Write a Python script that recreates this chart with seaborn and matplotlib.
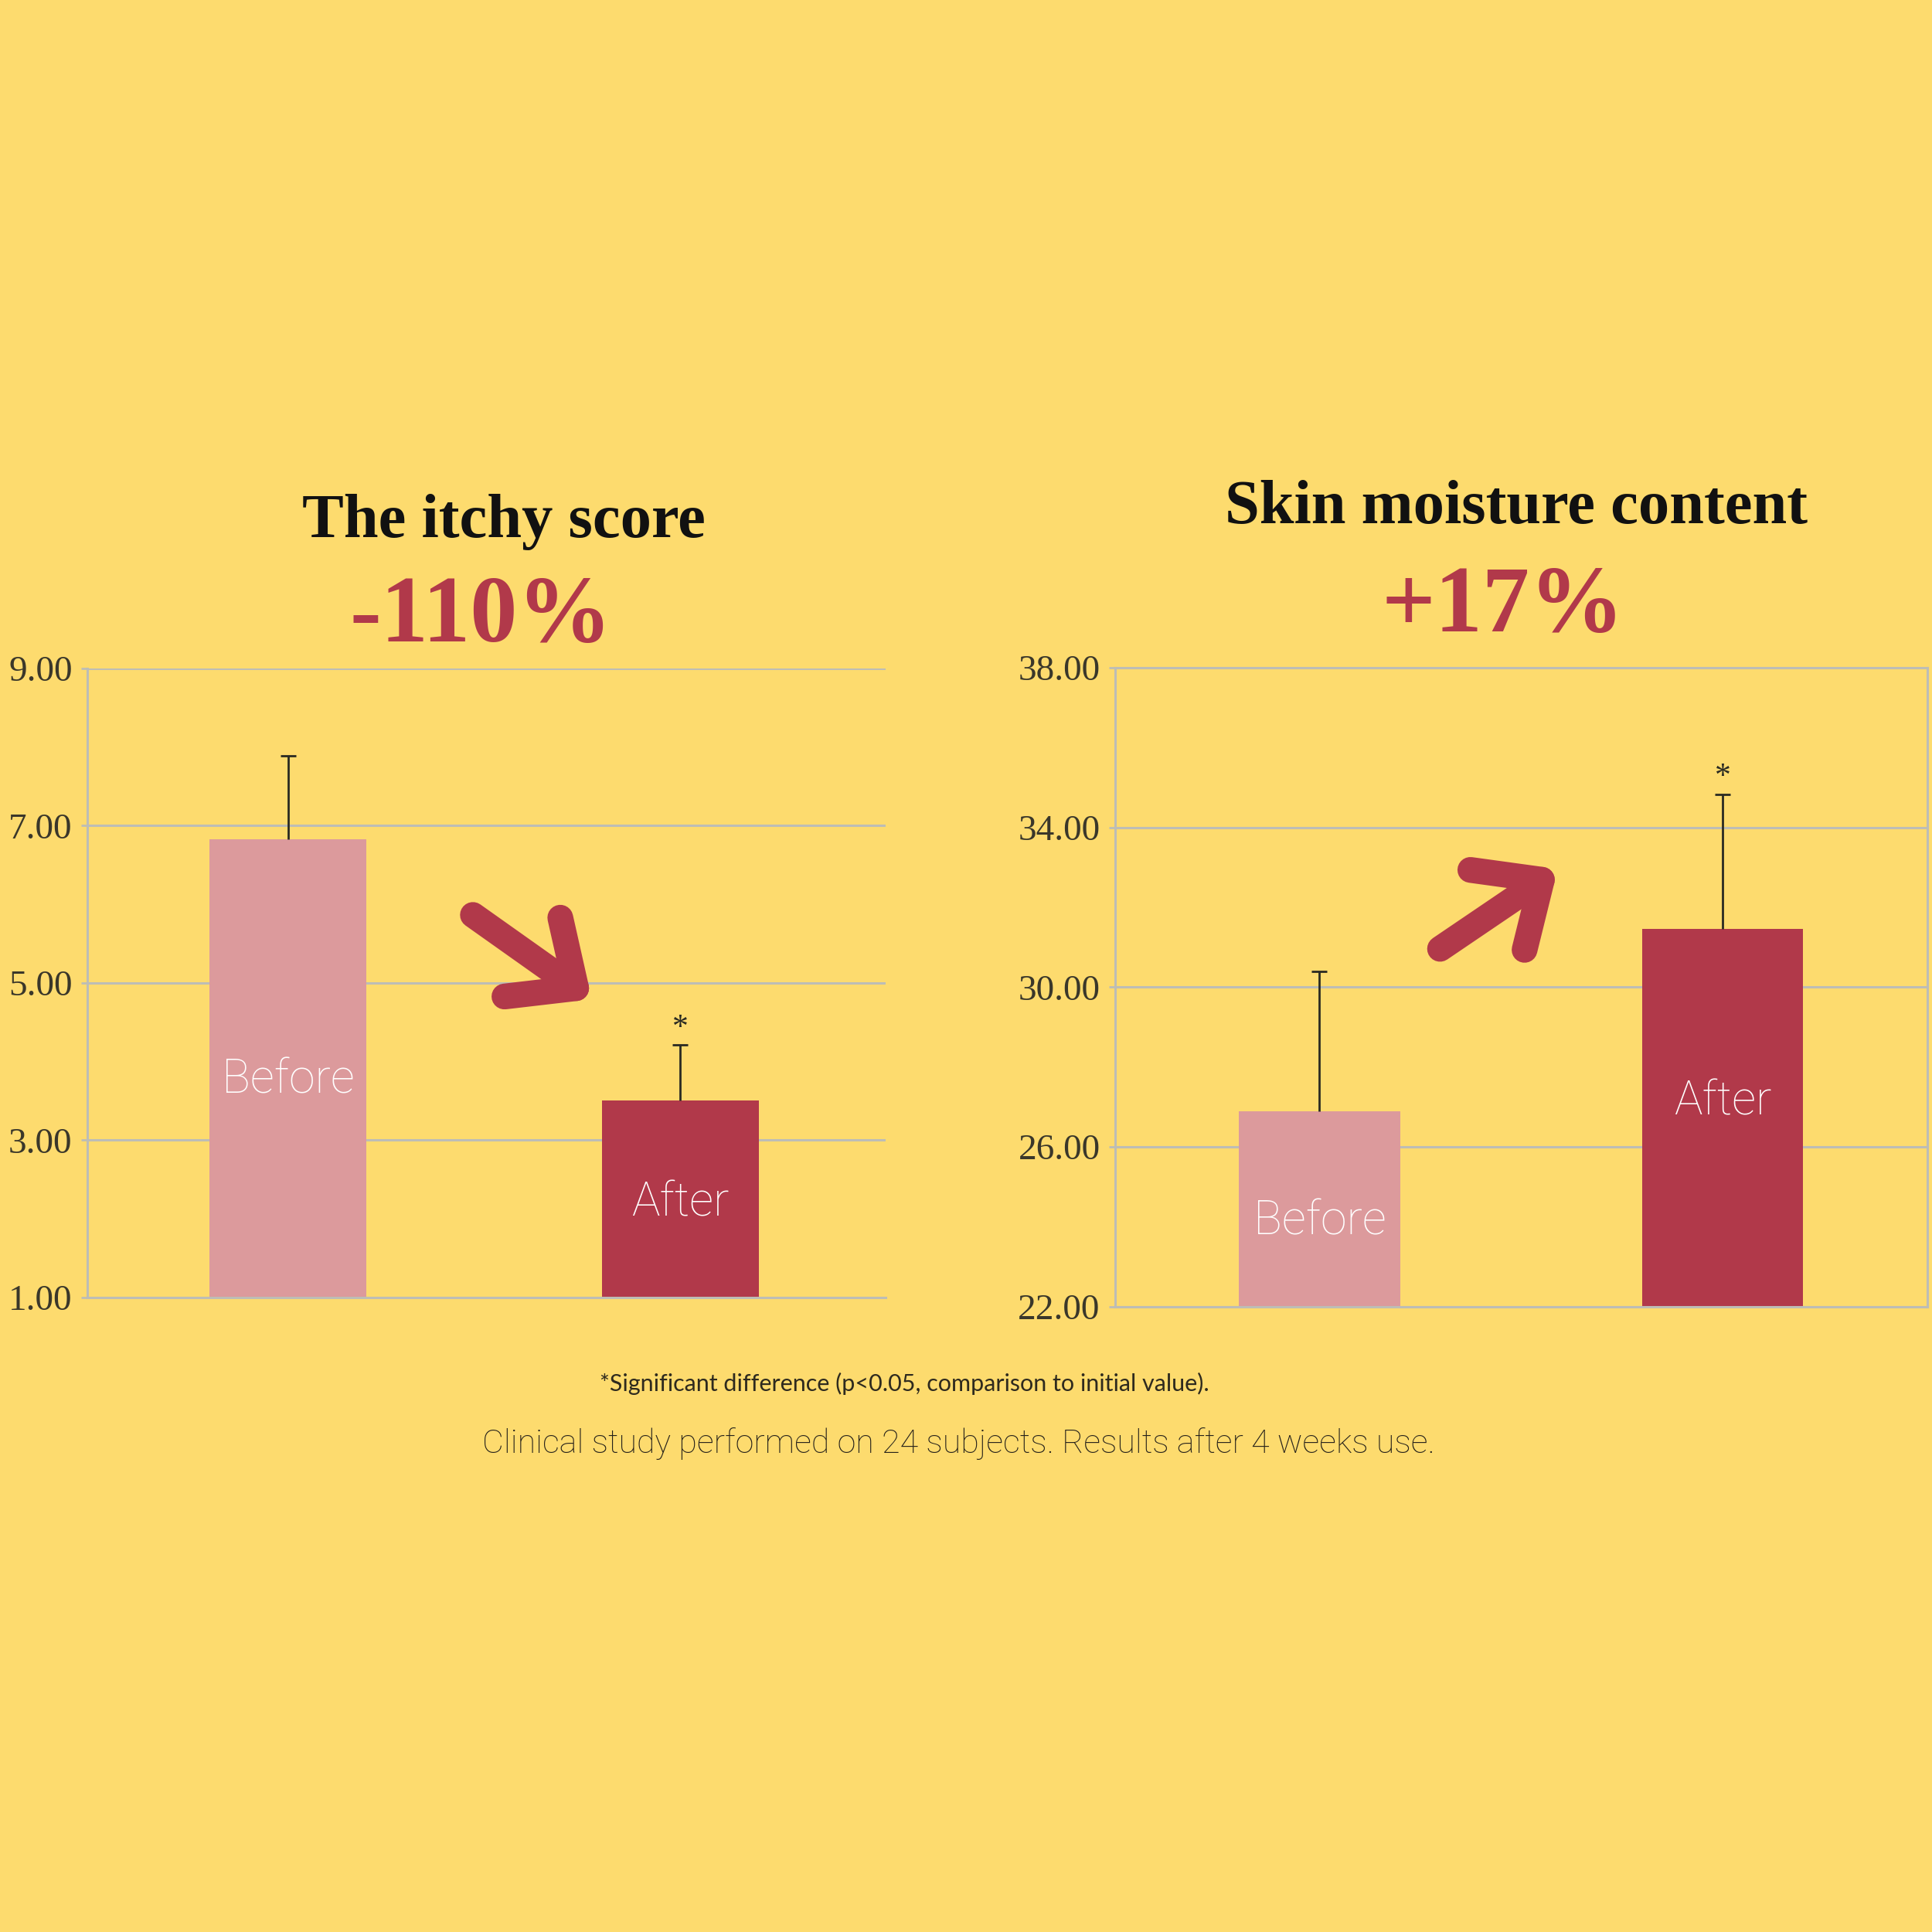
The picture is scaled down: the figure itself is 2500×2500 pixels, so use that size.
import matplotlib
matplotlib.use("Agg")
import matplotlib.pyplot as plt
import seaborn as sns

# data
categories = ["Before", "After"]

itchy_values = [6.83, 3.51]
itchy_errors = [1.06, 0.70]
itchy_ticks = [1, 3, 5, 7, 9]

moisture_values = [26.89, 31.46]
moisture_errors = [3.50, 3.37]
moisture_ticks = [22, 26, 30, 34, 38]

titles = ["The itchy score", "Skin moisture content"]
changes = ["-110%", "+17%"]
footnote = "*Significant difference (p<0.05, comparison to initial value)."
study_note = "Clinical study performed on 24 subjects. Results after 4 weeks use."

# colours
bg = "#FDDB6E"
bar_colors = ["#DC9A9C", "#B1394A"]
accent = "#B1394A"
grid_col = "#BDBDB6"

sns.set_theme(style="white")
plt.rcParams["font.family"] = ["Liberation Serif", "DejaVu Serif"]
light_sans = ["Roboto", "Lato", "DejaVu Sans"]

fig = plt.figure(figsize=(25, 25), dpi=100, facecolor=bg)

ax1 = fig.add_axes([0.0452, 0.3284, 0.4132, 0.3257])
ax2 = fig.add_axes([0.5772, 0.3237, 0.4204, 0.3307])


def draw_panel(ax, values, errors, ticks, xlim, label_frac, box):
    ax.set_facecolor(bg)
    sns.barplot(x=categories, y=values, hue=categories, palette=bar_colors,
                width=0.4, legend=False, ax=ax, saturation=1, linewidth=0,
                zorder=2)
    ax.set_ylim(ticks[0], ticks[-1])
    ax.set_xlim(*xlim)
    ax.set_yticks(ticks)
    ax.set_yticklabels([f"{t:.2f}" for t in ticks], fontsize=34, color="#3a372a")
    ax.set_xticks([])
    ax.set_xlabel("")
    ax.set_ylabel("")
    ax.yaxis.grid(True, color=grid_col, linewidth=2.2, zorder=0)
    ax.set_axisbelow(True)
    ax.tick_params(axis="y", length=6, width=2, color=grid_col, pad=8, left=True)
    for side in ["left", "bottom", "top", "right"]:
        ax.spines[side].set_color(grid_col)
        ax.spines[side].set_linewidth(2.2)
    if not box:
        ax.spines["top"].set_visible(False)
        ax.spines["right"].set_visible(False)

    # error bars, only the upper half
    xs = list(range(len(values)))
    _, caps, _ = ax.errorbar(xs, values, yerr=[[0] * len(errors), errors],
                             fmt="none", ecolor="#2a2a22", elinewidth=2,
                             capsize=7, capthick=2, zorder=3)
    caps[0].set_visible(False)

    # significance star above the "After" bar
    ax.annotate("*", xy=(1, values[1] + errors[1]), xytext=(0, 2),
                textcoords="offset points", ha="center", va="bottom",
                fontsize=30, color="#2a2a22")

    # labels inside the bars
    lo = ticks[0]
    for i, (cat, v) in enumerate(zip(categories, values)):
        ax.text(i, lo + label_frac[i] * (v - lo), cat, ha="center", va="center",
                fontsize=44, color="white", family=light_sans,
                fontweight="light", zorder=4)


draw_panel(ax1, itchy_values, itchy_errors, itchy_ticks, (-0.511, 1.523),
           [0.475, 0.478], box=False)
draw_panel(ax2, moisture_values, moisture_errors, moisture_ticks, (-0.507, 1.508),
           [0.436, 0.542], box=True)

# arrows
arrow_kw = dict(arrowstyle="->, head_length=0.5, head_width=0.45", color=accent,
                lw=24, shrinkA=0, shrinkB=0, mutation_scale=100,
                capstyle="round", joinstyle="round")
ax1.annotate("", xy=(0.632, 0.474), xytext=(0.483, 0.608),
             xycoords="axes fraction", textcoords="axes fraction",
             arrowprops=arrow_kw)
ax2.annotate("", xy=(0.545, 0.685), xytext=(0.400, 0.560),
             xycoords="axes fraction", textcoords="axes fraction",
             arrowprops=arrow_kw)

# headings
fig.text(652 / 2500, 1 - 695 / 2500, titles[0], ha="center", va="baseline",
         fontsize=58, fontweight="bold", color="#111111")
fig.text(1962 / 2500, 1 - 677 / 2500, titles[1], ha="center", va="baseline",
         fontsize=58, fontweight="bold", color="#111111")
fig.text(622 / 2500, 1 - 830 / 2500, changes[0], ha="center", va="baseline",
         fontsize=88, fontweight="bold", color=accent)
fig.text(1945 / 2500, 1 - 817 / 2500, changes[1], ha="center", va="baseline",
         fontsize=88, fontweight="bold", color=accent)

# notes
fig.text(1170 / 2500, 1 - 1800 / 2500, footnote, ha="center", va="baseline",
         fontsize=22, color="#2e2a1e", family=["Lato", "DejaVu Sans"])
fig.text(1240 / 2500, 1 - 1880 / 2500, study_note, ha="center", va="baseline",
         fontsize=31, color="#24201a", family=light_sans, fontweight="light")

fig.savefig("out.png", dpi=100, facecolor=bg)
